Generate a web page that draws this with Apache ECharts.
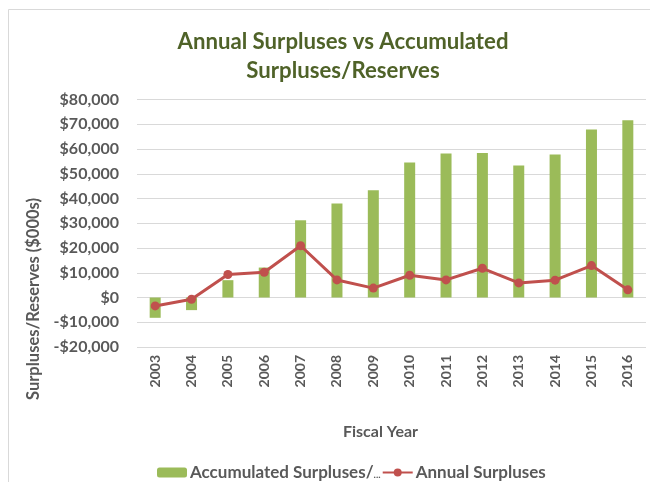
<!DOCTYPE html>
<html>
<head>
<meta charset="utf-8">
<script src="https://cdn.jsdelivr.net/npm/echarts@6/dist/echarts.min.js"></script>
<style>
  html, body { margin: 0; padding: 0; background: #ffffff; }
  #chart { width: 650px; height: 482px; }
</style>
</head>
<body>
<div id="chart"></div>
<script>
// Fiscal years on the category axis
const years = ['2003', '2004', '2005', '2006', '2007', '2008', '2009',
               '2010', '2011', '2012', '2013', '2014', '2015', '2016'];

// Accumulated surpluses / reserves ($000s)
const accumulated = [-8200, -5100, 7000, 12100, 31200, 38000, 43300,
                     54500, 58200, 58400, 53300, 57800, 67900, 71600];

// Annual surpluses ($000s)
const annual = [-3400, -700, 9300, 10200, 20900, 7100, 3800,
                9000, 7100, 11800, 5900, 7000, 12900, 3100];

// Value axis range and step
const yMin = -20000, yMax = 80000, yStep = 10000;

const FONT = 'Lato';
const GREY = '#595959';

function money(v) {
  const s = '$' + Math.abs(v).toLocaleString('en-US');
  return v < 0 ? '-' + s : s;
}

const chart = echarts.init(document.getElementById('chart'), null, { renderer: 'canvas' });

chart.setOption({
  animation: false,
  backgroundColor: '#ffffff',
  textStyle: { fontFamily: FONT },
  title: {
    text: 'Annual Surpluses vs Accumulated\nSurpluses/Reserves',
    left: 338,
    top: 22,
    textAlign: 'center',
    textStyle: {
      fontFamily: FONT, fontWeight: 'bold', fontSize: 22.2,
      lineHeight: 29, color: '#4F6228'
    }
  },
  graphic: [
    {
      type: 'rect', silent: true, z: -1,
      shape: { x: 8.5, y: 9.5, width: 700, height: 600 },
      style: { fill: 'none', stroke: '#d9d9d9', lineWidth: 1 }
    },
    {
      type: 'text', silent: true,
      x: 34, y: 299, rotation: Math.PI / 2,
      style: {
        text: 'Surpluses/Reserves ($000s)',
        fontFamily: FONT, fontWeight: 'bold', fontSize: 16.5,
        fill: GREY, align: 'center', verticalAlign: 'middle'
      }
    }
  ],
  legend: {
    left: 152, top: 459,
    itemWidth: 30, itemHeight: 10, itemGap: 1,
    textStyle: {
      fontFamily: FONT, fontWeight: 'bold', fontSize: 17, color: GREY,
      padding: [0, 0, 0, -2],
      rich: {
        dots: { fontFamily: FONT, fontWeight: 'bold', fontSize: 10, color: GREY, padding: [5, 0, 0, 0] }
      }
    },
    formatter: function (name) {
      return name === 'Accumulated Surpluses/Reserves' ? 'Accumulated Surpluses/{dots|...}' : name;
    },
    data: ['Accumulated Surpluses/Reserves', 'Annual Surpluses']
  },
  grid: { left: 137, right: 4, top: 99.5, bottom: 135, containLabel: false },
  xAxis: {
    type: 'category',
    data: years,
    axisLine: { show: false },
    axisTick: { show: false },
    axisLabel: {
      rotate: 90, margin: 8,
      fontFamily: FONT, fontWeight: 'bold', fontSize: 14, color: GREY
    },
    name: 'Fiscal Year',
    nameLocation: 'middle',
    nameGap: 77,
    nameTextStyle: {
      fontFamily: FONT, fontWeight: 'bold', fontSize: 16, color: GREY,
      padding: [0, 22, 0, 0]
    }
  },
  yAxis: {
    type: 'value',
    min: yMin, max: yMax, interval: yStep,
    axisLine: { show: false },
    axisTick: { show: false },
    splitLine: { lineStyle: { color: '#d9d9d9', width: 1 } },
    axisLabel: {
      margin: 18,
      fontFamily: FONT, fontWeight: 'bold', fontSize: 16, color: GREY,
      formatter: money
    }
  },
  series: [
    {
      name: 'Accumulated Surpluses/Reserves',
      type: 'bar',
      data: accumulated,
      barWidth: 11,
      itemStyle: { color: '#9BBB59' }
    },
    {
      name: 'Annual Surpluses',
      type: 'line',
      data: annual,
      symbol: 'circle',
      symbolSize: 9,
      lineStyle: { color: '#C0504D', width: 3 },
      itemStyle: { color: '#C0504D' }
    }
  ]
});
</script>
</body>
</html>
